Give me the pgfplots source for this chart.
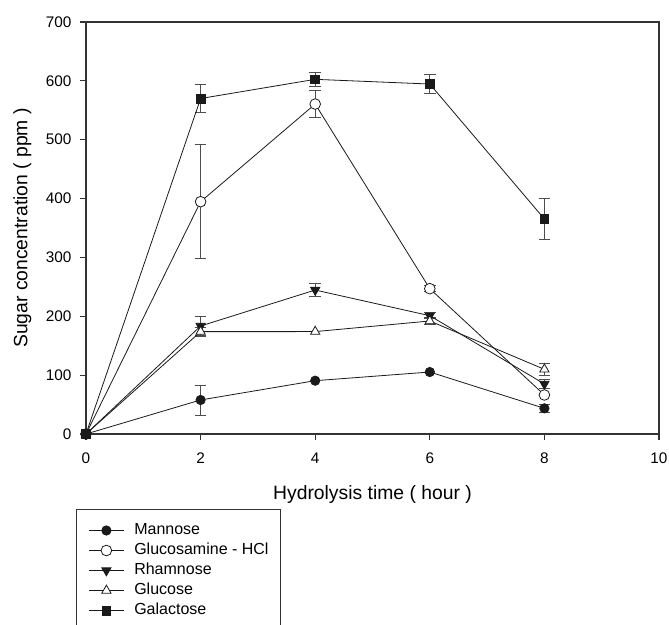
\documentclass[border=0pt]{standalone}
\usepackage{fontspec}
\setmainfont{Liberation Sans}
\usepackage{pgfplots}
\pgfplotsset{compat=1.18}
\definecolor{ln}{HTML}{1A1A1A}
\definecolor{eb}{HTML}{4D4D4D}
\definecolor{ax}{HTML}{333333}
\begin{document}
\begin{tikzpicture}
\begin{axis}[
  at={(0,0)}, anchor=south west,
  width=429.75pt, height=309pt, scale only axis,
  xmin=0, xmax=10, ymin=0, ymax=700,
  xtick={0,2,4,6,8,10}, ytick={0,100,200,300,400,500,600,700},
  tick align=outside, tick pos=left,
  major tick length=4.5pt,
  axis line style={ax, line width=0.8pt},
  every tick/.style={ax, line width=0.8pt},
  /pgf/number format/assume math mode=true,
  ticklabel style={font=\fontsize{11.5}{13}\selectfont},
  xticklabel style={anchor=north, inner sep=0pt, yshift=-9.5pt},
  yticklabel style={anchor=east, inner sep=0pt, xshift=-6.2pt},
  xlabel={Hydrolysis time ( hour )},
  ylabel={Sugar concentration ( ppm )},
  every axis x label/.style={at={(axis description cs:0.5,0)}, anchor=base, yshift=-48.75pt, font=\fontsize{14.5}{17}\selectfont},
  every axis y label/.style={at={(axis description cs:0,0.5)}, rotate=90, anchor=base, yshift=44pt, font=\fontsize{14.5}{17}\selectfont},
  clip=false,
  legend cell align=left,
  legend style={at={(0,0)}, anchor=north west, xshift=-7.5pt, yshift=-56.25pt,
    draw=ax, line width=0.75pt, inner xsep=9pt, inner ysep=8.25pt,
    row sep=0pt, column sep=7.5pt,
    font=\fontsize{12}{14}\selectfont,
    nodes={inner xsep=0pt, inner ysep=2pt, text height=8.5pt, text depth=2.5pt}},
  legend image code/.code={\draw[mark repeat=2,mark phase=2,#1] plot coordinates {(0pt,0pt)(13.125pt,0pt)(26.25pt,0pt)};},
  every axis plot/.append style={line width=0.6pt},
]
% error bars
\addplot[eb, only marks, mark=none, forget plot, error bars/.cd, y dir=both, y explicit,
  error mark=|,
  error bar style={eb, line width=0.6pt}, error mark options={eb, line width=0.6pt, mark size=4.4pt}]
  coordinates {
  (2,57.8) +- (0,25.5) (8,43.6) +- (0,7)
  (2,394.7) +- (0,96.5) (4,560.6) +- (0,23) (6,246.9) +- (0,5)
  (2,183.5) +- (0,16) (4,244.6) +- (0,11) (6,201) +- (0,5) (8,85) +- (0,8)
  (2,173.9) +- (0,8) (6,192) +- (0,6) (8,109.9) +- (0,10)
  (2,570) +- (0,24) (4,602.6) +- (0,12) (6,594.6) +- (0,16) (8,365.3) +- (0,35)
  };
\addplot[ln, mark=*, mark size=3.5pt, mark options={fill=ln, solid}]
  coordinates {(0,0) (2,57.8) (4,90.6) (6,105.3) (8,43.6)};
\addlegendentry{Mannose}
\addplot[ln, mark=*, mark size=4pt, mark options={fill=white, solid}]
  coordinates {(0,0) (2,394.7) (4,560.6) (6,246.9) (8,66.3)};
\addlegendentry{Glucosamine - HCl}
\addplot[ln, mark=triangle*, mark size=4pt, mark options={fill=ln, rotate=180, solid}]
  coordinates {(0,0) (2,183.5) (4,244.6) (6,201) (8,85)};
\addlegendentry{Rhamnose}
\addplot[ln, mark=triangle*, mark size=4pt, mark options={fill=white, solid}]
  coordinates {(0,0) (2,173.9) (4,174) (6,192) (8,109.9)};
\addlegendentry{Glucose}
\addplot[ln, mark=square*, mark size=3.3pt, mark options={fill=ln, solid}]
  coordinates {(0,0) (2,570) (4,602.6) (6,594.6) (8,365.3)};
\addlegendentry{Galactose}
\end{axis}
\pgfresetboundingbox
\path[use as bounding box] (-64.5pt,-143.25pt) rectangle (437.25pt,325.5pt);
\end{tikzpicture}
\end{document}
